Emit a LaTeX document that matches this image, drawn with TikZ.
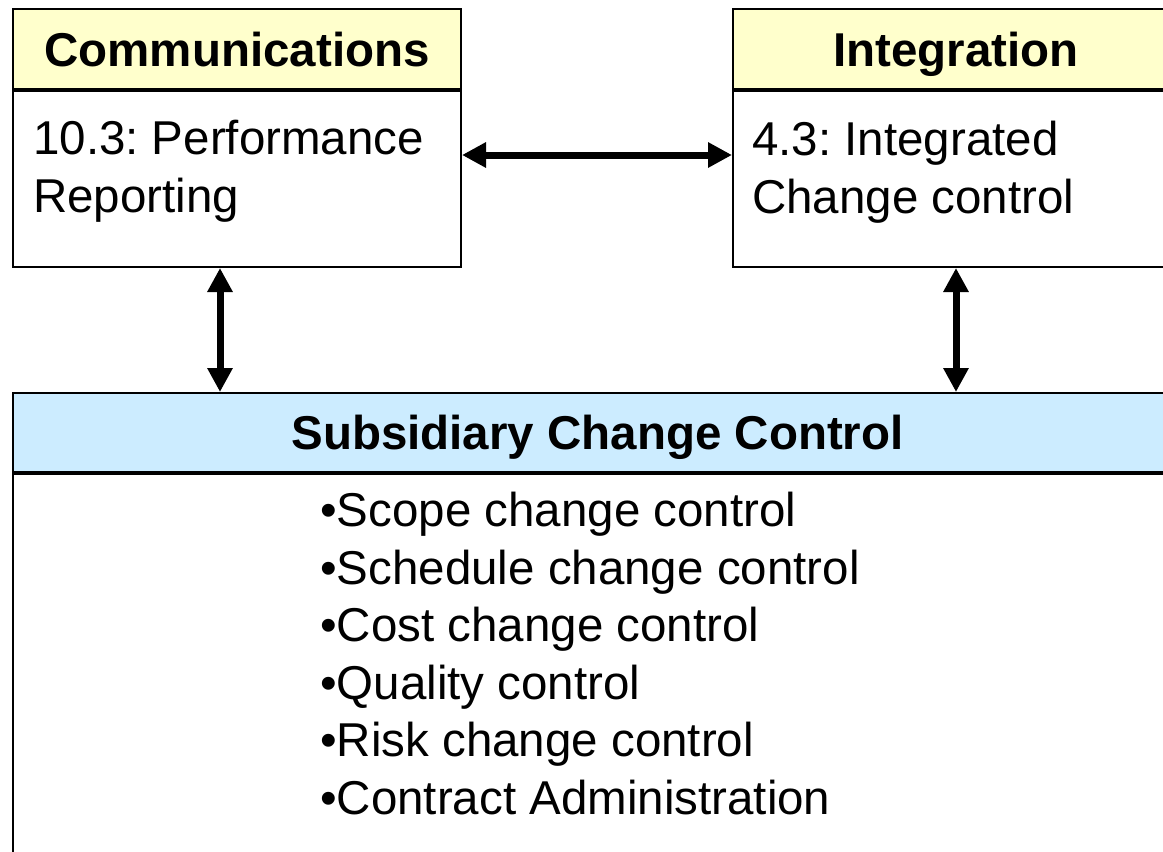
\documentclass[tikz,border=0pt]{standalone}
\usepackage{fontspec}
\setmainfont{Liberation Sans}
\usetikzlibrary{arrows.meta}
\definecolor{headyellow}{HTML}{FFFFCC}
\definecolor{headblue}{HTML}{CCECFF}
\frenchspacing
\tikzset{
  box/.style={draw=black, line width=2pt, rectangle, inner sep=0pt, anchor=north west},
  headtext/.style={font=\fontsize{47.5}{57}\selectfont\bfseries, text height=34pt, text depth=0pt},
  bodytext/.style={font=\fontsize{47.5}{57.5}\selectfont, align=left, inner sep=0pt, anchor=north west},
  biarrow/.style={line width=7pt, {Triangle[length=24pt,width=24pt]}-{Triangle[length=24pt,width=24pt]}}
}
\begin{document}
\begin{tikzpicture}[x=1pt,y=-1pt]
  \useasboundingbox (0,0) rectangle (1163,852);
  \clip (0,0) rectangle (1163,852);
  \fill[white] (0,0) rectangle (1163,852);
  \node[box, fill=headyellow, minimum width=448pt, minimum height=80pt, headtext] (hcomm) at (12,8) {Communications};
  \node[box, minimum width=448pt, minimum height=176pt] (bcomm) at (hcomm.south west) {};
  \node[box, fill=headyellow, minimum width=446pt, minimum height=80pt, headtext] (hinteg) at (732,8) {Integration};
  \node[box, minimum width=446pt, minimum height=176pt] (binteg) at (hinteg.south west) {};
  \node[box, fill=headblue, minimum width=1169pt, minimum height=79pt, headtext] (hsub) at (12,392) {Subsidiary Change Control};
  \node[box, minimum width=1169pt, minimum height=420pt] (bsub) at (hsub.south west) {};
  \node[bodytext] (tcomm) at (33,120) {10.3: Performance\\Reporting};
  \node[bodytext] (tinteg) at (752,121) {4.3: Integrated\\Change control};
  \node[bodytext] (tsub) at (320,492) {•Scope change control\\•Schedule change control\\•Cost change control\\•Quality control\\•Risk change control\\•Contract Administration};
  \draw[biarrow] ([yshift=-65pt]bcomm.north east) -- ([yshift=-65pt]binteg.north west);
  \foreach \n/\dx in {bcomm/208, binteg/224} {
    \draw[biarrow] ([xshift=\dx pt]\n.south west) -- ([xshift=\dx pt]\n.south west |- hsub.north);
  }
\end{tikzpicture}
\end{document}
